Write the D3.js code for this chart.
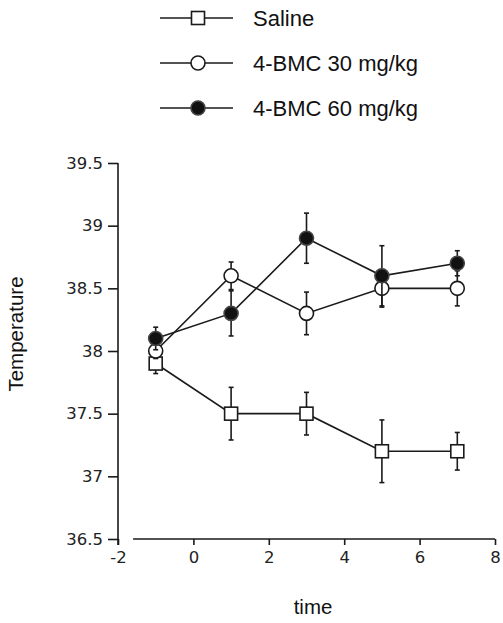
<!DOCTYPE html>
<html>
<head>
<meta charset="utf-8">
<script src="https://cdn.jsdelivr.net/npm/d3@7"></script>
<style>
  body { margin: 0; background: #fff; }
</style>
</head>
<body>
<div id="chart"></div>
<script>
// Data

const times = [-1, 1, 3, 5, 7];
const salineMean = [37.9, 37.5, 37.5, 37.2, 37.2];
const salineErr = [0.08, 0.21, 0.17, 0.25, 0.15];
const bmc30Mean = [38.0, 38.6, 38.3, 38.5, 38.5];
const bmc30Err = [0.06, 0.11, 0.17, 0.15, 0.14];
const bmc60Mean = [38.1, 38.3, 38.9, 38.6, 38.7];
const bmc60Err = [0.09, 0.18, 0.2, 0.24, 0.1];
const seriesNames = ["Saline", "4-BMC 30 mg/kg", "4-BMC 60 mg/kg"];
const xTicks = [-2, 0, 2, 4, 6, 8];
const yTicks = [36.5, 37, 37.5, 38, 38.5, 39, 39.5];

const width = 503;
const height = 623;
const ink = "#1a1a1a";

const series = [
  { name: seriesNames[0], mean: salineMean, err: salineErr, shape: "square", fill: "#fff" },
  { name: seriesNames[1], mean: bmc30Mean, err: bmc30Err, shape: "circle", fill: "#fff" },
  { name: seriesNames[2], mean: bmc60Mean, err: bmc60Err, shape: "circle", fill: "#111" },
];

const svg = d3
  .select("#chart")
  .append("svg")
  .attr("width", width)
  .attr("height", height);

const xScale = d3.scaleLinear().domain([-2, 8]).range([118, 495]);
const yScale = d3.scaleLinear().domain([36.5, 39.5]).range([539, 163]);

// Axes (plain hyphen for negatives, like the original)

const xAxis = svg
  .append("g")
  .attr("transform", `translate(0, ${yScale(36.5)})`)
  .call(
    d3.axisBottom(xScale).tickValues(xTicks).tickFormat((d) => String(d)).tickSize(6).tickPadding(6).tickSizeOuter(0)
  );

xAxis.select(".domain").attr("d", `M${xScale(-1.6)},0H${xScale(8)}`);

const yAxis = svg
  .append("g")
  .attr("transform", `translate(${xScale(-2)}, 0)`)
  .call(
    d3.axisLeft(yScale).tickValues(yTicks).tickFormat((d) => String(d)).tickSize(10).tickPadding(5).tickSizeOuter(0)
  );

yAxis.select(".domain").attr("d", `M0,${yScale(39.5)}V${yScale(36.5) + 6}`);

svg.selectAll(".domain, .tick line").attr("stroke", ink).attr("stroke-width", 1.6);
svg
  .selectAll(".tick text")
  .attr("fill", "#222")
  .style("font-family", "'DejaVu Sans', Verdana, sans-serif")
  .style("font-size", "16.5px");

svg
  .append("text")
  .attr("x", 313)
  .attr("y", 614)
  .attr("text-anchor", "middle")
  .attr("fill", "#111")
  .style("font-family", "'Liberation Sans', Arial, sans-serif")
  .style("font-size", "20.5px")
  .text("time");

svg
  .append("text")
  .attr("transform", "translate(23, 334) rotate(-90)")
  .attr("text-anchor", "middle")
  .attr("fill", "#111")
  .style("font-family", "'Liberation Sans', Arial, sans-serif")
  .style("font-size", "20.5px")
  .text("Temperature");

// Series

const line = d3
  .line()
  .x((d) => xScale(d.t))
  .y((d) => yScale(d.v));

function drawMarker(g, shape, fill) {
  if (shape === "square") {
    g.append("rect")
      .attr("x", -6.5)
      .attr("y", -6.5)
      .attr("width", 13)
      .attr("height", 13)
      .attr("fill", fill)
      .attr("stroke", ink)
      .attr("stroke-width", 1.6);
  } else {
    g.append("circle")
      .attr("r", 7)
      .attr("fill", fill)
      .attr("stroke", fill === "#fff" ? ink : "#444")
      .attr("stroke-width", 1.6);
  }
}

series.forEach((s) => {
  const pts = times.map((t, i) => ({ t: t, v: s.mean[i], e: s.err[i] }));

  svg
    .append("path")
    .datum(pts)
    .attr("fill", "none")
    .attr("stroke", ink)
    .attr("stroke-width", 1.6)
    .attr("d", line);

  const bars = svg.append("g").selectAll("g").data(pts).enter().append("g");

  bars
    .append("line")
    .attr("x1", (d) => xScale(d.t))
    .attr("x2", (d) => xScale(d.t))
    .attr("y1", (d) => yScale(d.v - d.e))
    .attr("y2", (d) => yScale(d.v + d.e))
    .attr("stroke", ink)
    .attr("stroke-width", 1.6);

  bars
    .selectAll(".cap")
    .data((d) => [d.v - d.e, d.v + d.e].map((v) => ({ t: d.t, v: v })))
    .enter()
    .append("line")
    .attr("x1", (d) => xScale(d.t) - 2.5)
    .attr("x2", (d) => xScale(d.t) + 2.5)
    .attr("y1", (d) => yScale(d.v))
    .attr("y2", (d) => yScale(d.v))
    .attr("stroke", ink)
    .attr("stroke-width", 1.6);

  svg
    .append("g")
    .selectAll("g")
    .data(pts)
    .enter()
    .append("g")
    .attr("transform", (d) => `translate(${xScale(d.t)}, ${yScale(d.v)})`)
    .each(function () {
      drawMarker(d3.select(this), s.shape, s.fill);
    });
});

// Legend

const legend = svg
  .append("g")
  .selectAll("g")
  .data(series)
  .enter()
  .append("g")
  .attr("transform", (d, i) => `translate(0, ${18 + i * 45})`);

legend
  .append("line")
  .attr("x1", 160)
  .attr("x2", 233)
  .attr("stroke", ink)
  .attr("stroke-width", 1.6);

legend
  .append("g")
  .attr("transform", "translate(198, 0)")
  .each(function (d) {
    drawMarker(d3.select(this), d.shape, d.fill);
  });

legend
  .append("text")
  .attr("x", 253)
  .attr("y", 8)
  .attr("fill", "#111")
  .style("font-family", "'Liberation Sans', Arial, sans-serif")
  .style("font-size", "22px")
  .text((d) => d.name);
</script>
</body>
</html>
